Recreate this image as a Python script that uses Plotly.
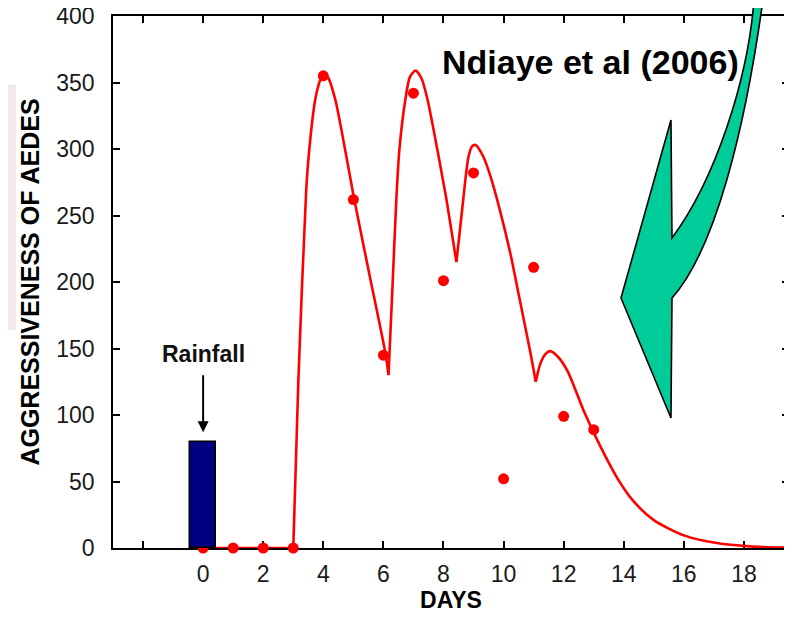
import plotly.graph_objects as go

# ---------------- data ----------------
obs_days = [0, 1, 2, 3, 4, 5, 6, 7, 8, 9, 10, 11, 12, 13]
obs_aggr = [0, 0, 0, 0, 355, 262, 145, 342, 201, 282, 52, 211, 99, 89]

rain_day = [0]
rain_amount = [80]

flat_days = [0, 3.0]
flat_vals = [0, 0]

hump1_days = [3.0, 3.17, 3.43, 3.53, 3.73, 3.9, 4.0, 4.15, 4.4, 4.73, 5.03, 5.55, 6.07, 6.17]
hump1_vals = [0, 126, 269, 299, 337, 352, 356, 354, 337, 299, 262, 204, 146, 130]

hump2_days = [6.17, 6.3, 6.43, 6.53, 6.73, 6.88, 7.07, 7.27, 7.47, 7.8, 7.97, 8.1, 8.43]
hump2_vals = [130, 195, 262, 299, 337, 354, 359, 353, 337, 299, 278, 262, 215]

hump3_days = [8.43, 8.6, 8.7, 8.83, 8.95, 9.07, 9.33, 9.57, 9.9, 10.23, 10.5, 10.9, 11.07]
hump3_vals = [215, 250, 271, 294, 302, 303, 294, 279, 252, 221, 191, 146, 125]

hump4_days = [11.07, 11.23, 11.4, 11.55, 11.8, 12.13, 12.67, 13.23, 13.8, 14.33, 15.0, 16.0, 17.1, 18.2, 19.5]
hump4_vals = [125, 139, 146, 148, 144, 133, 103, 76, 52, 35, 21, 9.5, 3.7, 1.2, 0.2]

x_tickvals = [-2, 0, 2, 4, 6, 8, 10, 12, 14, 16, 18]
x_ticktext = ["", "0", "2", "4", "6", "8", "10", "12", "14", "16", "18"]
y_tickvals = [0, 50, 100, 150, 200, 250, 300, 350, 400]

# ---------------- geometry (page pixels; page body adds an 8px offset) ----------------
OFF = 8
W, H = 792 - OFF, 621 - OFF
L, R, T, B = 113 - OFF, 789 - OFF, 16 - OFF, 548 - OFF
def pxx(x):
    return (x - OFF - L) / (R - L)
def pyy(y):
    return (B - (y - OFF)) / (B - T)
def pt(p):
    return f"{pxx(p[0]):.4f},{pyy(p[1]):.4f}"

fig = go.Figure()

red = "#FF0000"
fig.add_trace(go.Scatter(x=flat_days, y=flat_vals, mode="lines",
                         line=dict(color=red, width=2.6), cliponaxis=False,
                         showlegend=False, hoverinfo="skip"))
for d, v in [(hump1_days, hump1_vals), (hump2_days, hump2_vals),
             (hump3_days, hump3_vals), (hump4_days, hump4_vals)]:
    fig.add_trace(go.Scatter(x=d, y=v, mode="lines",
                             line=dict(color=red, width=2.6, shape="spline", smoothing=0.7),
                             cliponaxis=False, showlegend=False))

fig.add_trace(go.Scatter(x=obs_days, y=obs_aggr, mode="markers",
                         marker=dict(color=red, size=11), cliponaxis=False,
                         showlegend=False))

fig.add_trace(go.Bar(x=rain_day, y=rain_amount, width=0.86, yaxis="y2",
                     marker=dict(color="#000080", line=dict(color="black", width=1.5)),
                     showlegend=False))

# green curved arrow (decoration), page-pixel outline with bezier edges
path = ("M " + pt((755, -6)) +
        " L " + pt((754, 0)) +
        " C " + pt((748, 80)) + " " + pt((715, 180)) + " " + pt((672, 238)) +
        " L " + pt((671, 120)) +
        " L " + pt((621, 298)) +
        " L " + pt((671, 418)) +
        " L " + pt((672, 298)) +
        " C " + pt((715, 250)) + " " + pt((745, 130)) + " " + pt((763, 0)) +
        " L " + pt((764, -6)) + " Z")

fig.add_shape(type="path", path=path, xref="paper", yref="paper",
              fillcolor="#00CC99", line=dict(color="black", width=1.6), layer="above")

fig.add_annotation(x=pxx(590), y=pyy(62), xref="paper", yref="paper",
                   text="<b>Ndiaye et al (2006)</b>", showarrow=False,
                   xanchor="center", yanchor="middle",
                   font=dict(family="Liberation Sans, Arial, sans-serif",
                             size=34, color="black"))

fig.add_annotation(x=0, y=146, xref="x", yref="y", text="<b>Rainfall</b>",
                   showarrow=False, font=dict(size=23, color="#111"),
                   xanchor="center", yanchor="middle")
fig.add_annotation(x=0, y=87, ax=0, ay=131, xref="x", yref="y", axref="x", ayref="y",
                   text="", showarrow=True, arrowhead=2, arrowsize=1.1, arrowwidth=2,
                   arrowcolor="black")

# faint background remnants at far left
fig.add_shape(type="rect", xref="paper", yref="paper",
              x0=pxx(8), x1=pxx(16), y0=pyy(330), y1=pyy(85),
              fillcolor="#f3e9e9", line=dict(width=0), layer="below")

axis_common = dict(showline=True, linecolor="black", linewidth=1.5, mirror="ticks",
                   ticks="inside", ticklen=7, tickwidth=1.5, tickcolor="black",
                   showgrid=False, zeroline=False, layer="below traces", automargin=False,
                   ticklabeloverflow="allow",
                   tickfont=dict(size=23, color="#1a1a1a"))

fig.update_layout(
    width=W, height=H,
    margin=dict(l=L, r=W - R, t=T, b=H - B),
    paper_bgcolor="white", plot_bgcolor="white",
    font=dict(family="Liberation Sans, Arial, Helvetica, sans-serif", color="black"),
    xaxis=dict(range=[-3, 19.5], tickmode="array", tickvals=x_tickvals, ticktext=x_ticktext,
               ticklabelstandoff=5,
               title=dict(text="<b>DAYS</b>", font=dict(size=23), standoff=6),
               **axis_common),
    yaxis=dict(range=[0, 400], tickmode="array", tickvals=y_tickvals,
               ticklabelstandoff=12,
               title=dict(text="<b>AGGRESSIVENESS OF AEDES</b>", font=dict(size=25), standoff=10),
               **axis_common),
    yaxis2=dict(range=[0, 400], overlaying="y", visible=False),
    bargap=0,
)

fig.write_html("out.html")
